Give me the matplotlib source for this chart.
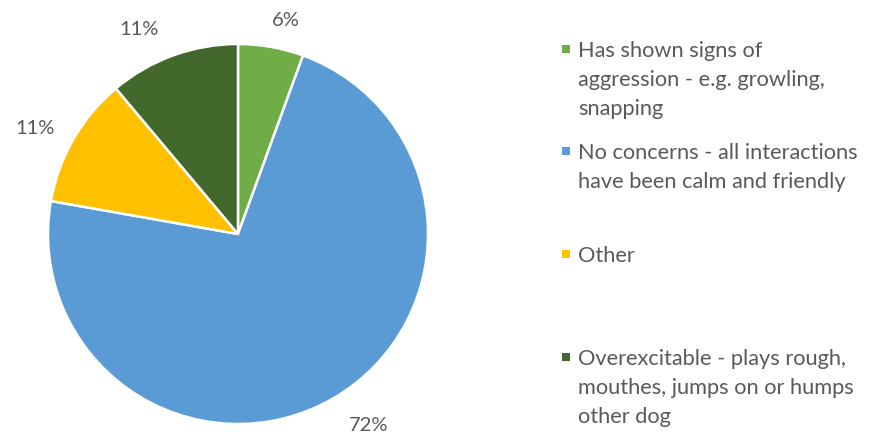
import matplotlib
matplotlib.use("Agg")
import matplotlib.pyplot as plt
from matplotlib.patches import Rectangle

labels = [
    "Has shown signs of\naggression - e.g. growling,\nsnapping",
    "No concerns - all interactions\nhave been calm and friendly",
    "Other",
    "Overexcitable - plays rough,\nmouthes, jumps on or humps\nother dog",
]
values = [5.56, 72.22, 11.11, 11.11]
colors = ["#70AD47", "#5B9BD5", "#FFC000", "#43682B"]

plt.rcParams["font.family"] = ["Lato", "DejaVu Sans"]
text_color = "#595959"

fig = plt.figure(figsize=(8.69, 4.35), dpi=100)
W, H = 869, 435
ax = fig.add_axes([48 / W, (H - 425) / H, 380 / W, 380 / H])
wedges, texts, autotexts = ax.pie(
    values, colors=colors, startangle=90, counterclock=False,
    autopct=lambda p: f"{p:.0f}%", pctdistance=1.18,
    wedgeprops=dict(edgecolor="white", linewidth=1.8),
    textprops=dict(color=text_color, fontsize=14.5),
)
# nudge label positions like Excel's best-fit placement
autotexts[0].set_position((0.25, 1.13))
autotexts[1].set_position((0.69, -1.005))
autotexts[2].set_position((-1.07, 0.56))
autotexts[3].set_position((-0.52, 1.08))
ax.set_xlim(-1, 1)
ax.set_ylim(-1, 1)
ax.set_aspect("equal")
ax.axis("off")

# manual legend (Excel-like, equal pitch)
centers = [50, 152, 255, 358]
for lab, col, c in zip(labels, colors, centers):
    fig.patches.append(Rectangle((562 / W, (H - c - 4) / H), 8 / W, 8 / H,
                                 transform=fig.transFigure, facecolor=col,
                                 edgecolor="none"))
    fig.text(578 / W, (H - c + 9) / H, lab, ha="left", va="top",
             fontsize=15.7, color=text_color, linespacing=1.55)

fig.savefig("out.png", dpi=100, facecolor="white")
